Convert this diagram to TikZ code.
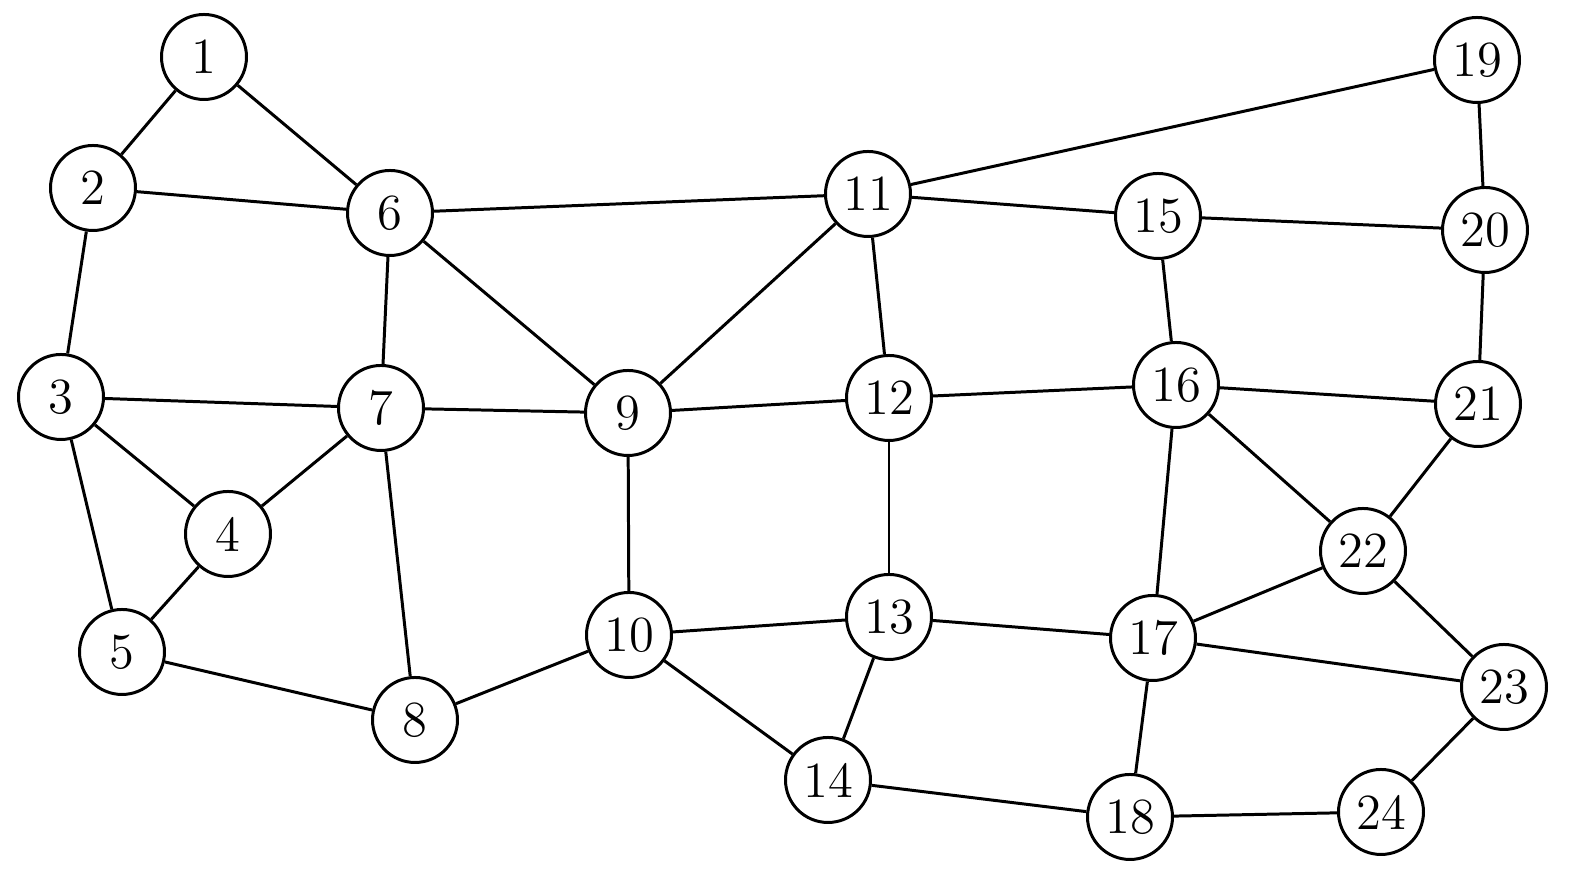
\documentclass[tikz,border=0pt]{standalone}
\usepackage{tikz}
\usetikzlibrary{positioning}

\tikzset{
  vertex/.style={draw, circle, line width=0.85pt, minimum size=0.85cm, inner sep=0pt, font=\Large},
  edge/.style={line width=0.85pt}
}

\begin{document}
\begin{tikzpicture}
  \useasboundingbox (0,0) rectangle (15.75,8.76);
  % vertices
  \node[vertex] (v1) at (2.04, 8.19) {1};
  \node[vertex] (v2) at (0.93, 6.88) {2};
  \node[vertex] (v3) at (0.61, 4.79) {3};
  \node[vertex] (v4) at (2.28, 3.42) {4};
  \node[vertex] (v5) at (1.22, 2.24) {5};
  \node[vertex] (v6) at (3.90, 6.63) {6};
  \node[vertex] (v7) at (3.81, 4.68) {7};
  \node[vertex] (v8) at (4.15, 1.56) {8};
  \node[vertex] (v9) at (6.28, 4.63) {9};
  \node[vertex] (v10) at (6.29, 2.41) {10};
  \node[vertex] (v11) at (8.68, 6.82) {11};
  \node[vertex] (v12) at (8.89, 4.78) {12};
  \node[vertex] (v13) at (8.89, 2.59) {13};
  \node[vertex] (v14) at (8.28, 0.96) {14};
  \node[vertex] (v15) at (11.58, 6.60) {15};
  \node[vertex] (v16) at (11.76, 4.91) {16};
  \node[vertex] (v17) at (11.53, 2.38) {17};
  \node[vertex] (v18) at (11.30, 0.59) {18};
  \node[vertex] (v19) at (14.77, 8.16) {19};
  \node[vertex] (v20) at (14.85, 6.46) {20};
  \node[vertex] (v21) at (14.78, 4.72) {21};
  \node[vertex] (v22) at (13.63, 3.25) {22};
  \node[vertex] (v23) at (15.04, 1.89) {23};
  \node[vertex] (v24) at (13.81, 0.64) {24};

  % edges
  \foreach \a/\b in {1/2, 1/6, 2/6, 2/3, 3/7, 3/4, 3/5, 4/5, 4/7, 6/7, 6/9, 6/11,
                     7/9, 7/8, 5/8, 8/10, 9/10, 9/11, 9/12, 11/12, 11/15, 11/19,
                     10/13, 10/14, 12/13, 12/16, 13/14, 13/17, 14/18, 15/16, 15/20,
                     16/17, 16/21, 16/22, 17/22, 17/23, 17/18, 18/24, 19/20, 20/21,
                     21/22, 22/23, 23/24}
    \draw[edge] (v\a) -- (v\b);
\end{tikzpicture}
\end{document}
